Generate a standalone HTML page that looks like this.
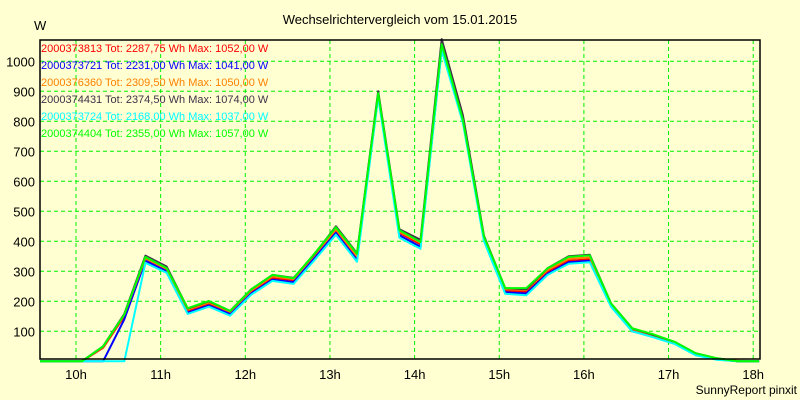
<!DOCTYPE html>
<html><head><meta charset="utf-8"><style>
body{margin:0;background:#ffffd2;}
svg{display:block;font-family:"Liberation Sans",sans-serif;}
</style></head><body>
<svg width="800" height="400" id="chart">
<rect x="0" y="0" width="800" height="400" fill="#ffffd2"/>
<text x="400" y="24" text-anchor="middle" font-size="13" fill="#000">Wechselrichtervergleich vom 15.01.2015</text>
<text x="34" y="30" font-size="13" fill="#000">W</text>
<text x="797" y="394" text-anchor="end" font-size="12" fill="#000">SunnyReport pinxit</text>
<g id="grid"></g><g id="series"></g><g id="axes"></g><g id="legend"></g>
</svg>
<script>
const yTicks=[100,200,300,400,500,600,700,800,900,1000];
const xTicks=[10,11,12,13,14,15,16,17,18];
const xTickLabels=["10h","11h","12h","13h","14h","15h","16h","17h","18h"];
const startHour=10.07, stepHour=0.25;
const seriesNames=["2000373813 Tot: 2287,75 Wh Max: 1052,00 W","2000373721 Tot: 2231,00 Wh Max: 1041,00 W","2000376360 Tot: 2309,50 Wh Max: 1050,00 W","2000374431 Tot: 2374,50 Wh Max: 1074,00 W","2000373724 Tot: 2168,00 Wh Max: 1037,00 W","2000374404 Tot: 2355,00 Wh Max: 1057,00 W"];
const seriesColors=["#ff0000","#0000ff","#ff8000","#403048","#00ffff","#00ff00"];
const redVals=[0,45,150,340,305,168,192,162,232,278,270,350,435,345,890,428,390,1052,810,410,235,232,298,335,340,188,105,85,62,24,8,0,0];
const blueVals=[0,0,140,335,300,162,186,158,226,272,264,345,428,338,885,420,382,1041,805,405,230,226,292,330,335,185,100,82,60,22,6,0,0];
const orangeVals=[0,48,155,343,308,172,196,165,236,283,274,355,440,350,893,432,395,1050,808,413,240,238,304,342,346,190,108,86,63,25,9,2,0];
const blackVals=[0,50,158,352,316,176,200,168,240,288,278,358,450,360,900,440,405,1074,820,418,244,240,310,350,355,193,110,88,65,27,10,0,0];
const cyanVals=[0,0,0,328,295,158,182,152,222,268,258,338,422,332,880,412,375,1037,795,400,225,220,288,325,330,182,100,80,58,20,5,0,0];
const greenVals=[0,50,156,348,311,177,201,168,240,288,277,360,447,358,894,437,398,1057,805,415,244,244,310,348,353,193,110,90,65,27,10,0,0];
const allVals=[redVals,blueVals,orangeVals,blackVals,cyanVals,greenVals];
const NS="http://www.w3.org/2000/svg";
const L=40,R=760,T=40,B=359;
function xs(h){return 76+(h-10)*84.65;}
function ys(v){return 361.3-v*0.3;}
function mk(tag,attrs,parent){const e=document.createElementNS(NS,tag);for(const k in attrs)e.setAttribute(k,attrs[k]);parent.appendChild(e);return e;}
const grid=document.getElementById('grid'),ser=document.getElementById('series'),axes=document.getElementById('axes'),leg=document.getElementById('legend');
yTicks.forEach(v=>{
  const l=mk('line',{x1:L,x2:R,y1:ys(v),y2:ys(v),stroke:"#00f000","stroke-dasharray":"4,3","stroke-width":1},grid);
  
  
  const t=mk('text',{x:35,y:ys(v)+5,"text-anchor":"end","font-size":13,fill:"#000"},axes);
  t.textContent=v;
  
  
});
xTicks.forEach((h,i)=>{
  const l=mk('line',{x1:xs(h),x2:xs(h),y1:T,y2:B,stroke:"#00f000","stroke-dasharray":"4,3","stroke-width":1},grid);
  
  
  const t=mk('text',{x:xs(h),y:379,"text-anchor":"middle","font-size":13,fill:"#000"},axes);
  t.textContent=xTickLabels[i];
  
  
});
const order=[0,1,2,3,4,5];
order.forEach(s=>{
  const vals=allVals[s];
  let d="M"+L+","+ys(0);
  vals.forEach((v,k)=>{d+=" L"+xs(startHour+k*stepHour).toFixed(1)+","+ys(v).toFixed(1);});
  const p=mk('path',{d:d,fill:"none",stroke:seriesColors[s],"stroke-width":2,"stroke-linejoin":"round"},ser);
  
  
});
const fr=mk('path',{d:`M${L},${T} L${R},${T} L${R},${B} L${L},${B} Z`,fill:"none",stroke:"#000","stroke-width":1.5},axes);


seriesNames.forEach((n,i)=>{
  const t=mk('text',{x:41,y:52+i*17,"font-size":11,fill:seriesColors[i]},leg);
  t.textContent=n;
  
  
});
</script>
</body></html>
